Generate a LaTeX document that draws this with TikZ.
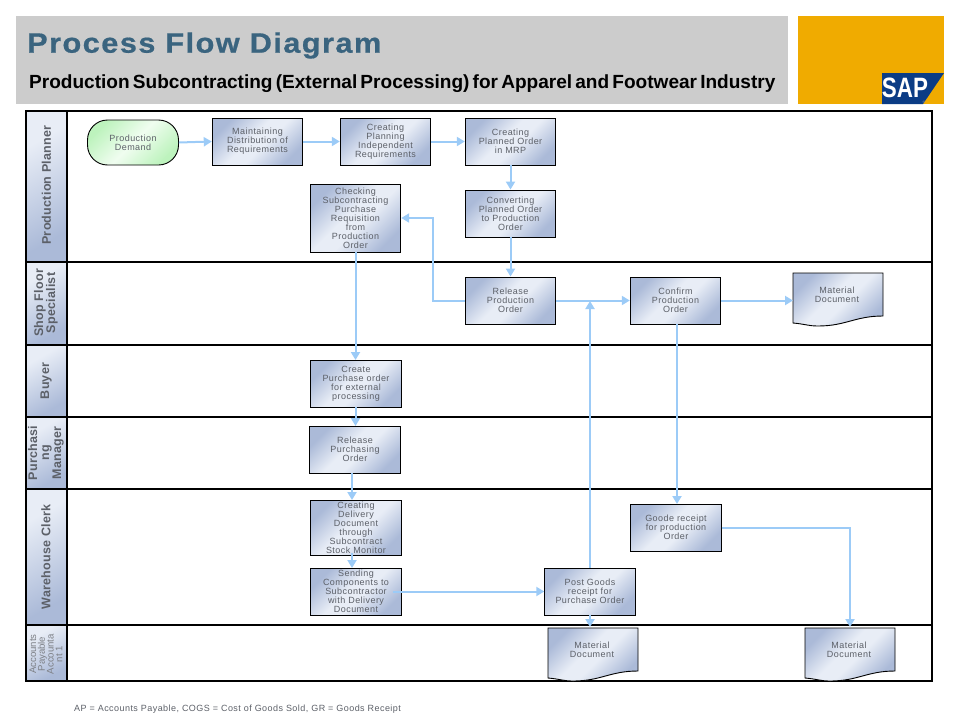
\documentclass[tikz,border=0pt]{standalone}
\usepackage{fontspec}
\setmainfont{Liberation Sans}
\newfontfamily\boxfont[LetterSpace=5]{Liberation Sans}
\newfontfamily\lanefont[LetterSpace=2]{Liberation Sans}
\newfontfamily\titlefont[UprightFont=* Bold,LetterSpace=5,FakeBold=0.6,FakeStretch=1.1]{Liberation Sans}
\newfontfamily\subfont[UprightFont=* Bold,WordSpace=0.6]{Liberation Sans}
\usetikzlibrary{arrows.meta}
\definecolor{flowblue}{HTML}{9CCBF7}
\definecolor{boxdark}{HTML}{ABBAD8}
\definecolor{boxlight}{HTML}{E8EDF6}
\definecolor{greendark}{HTML}{BDF3BD}
\definecolor{greenlight}{HTML}{F0FDF0}
\definecolor{textgrey}{HTML}{5C6068}
\definecolor{titleblue}{HTML}{3A647F}
\definecolor{sapgold}{HTML}{F0AB00}
\definecolor{sapblue}{HTML}{0B3C85}
\pgfdeclareverticalshading{procshade}{100bp}{color(0bp)=(boxdark); color(25bp)=(boxdark); color(45bp)=(boxlight); color(55bp)=(boxlight); color(75bp)=(boxdark); color(100bp)=(boxdark)}
\pgfdeclareverticalshading{demandshade}{100bp}{color(0bp)=(greendark); color(25bp)=(greendark); color(50bp)=(greenlight); color(75bp)=(greendark); color(100bp)=(greendark)}
\pgfdeclareverticalshading{laneshade}{100bp}{color(0bp)=(boxdark); color(28bp)=(boxdark); color(70bp)=(boxlight); color(100bp)=(boxlight)}
\tikzset{
  proc/.style={draw=black,line width=0.9pt,shading=procshade,shading angle=45,minimum width=90.5pt,minimum height=47pt,inner sep=0pt,align=center,text=textgrey,font=\boxfont\fontsize{9}{9}\selectfont},
  doctext/.style={inner sep=0pt,align=center,text=textgrey,font=\boxfont\fontsize{9}{9}\selectfont},
  lanetext/.style={inner sep=0pt,align=center,rotate=90,text=textgrey,font=\lanefont\bfseries\fontsize{12.5}{12}\selectfont},
  flow/.style={draw=flowblue,line width=2pt,-{Triangle[width=9pt,length=8pt]}},
}
\begin{document}
\begin{tikzpicture}[x=1pt,y=-1pt]
\useasboundingbox (0,0) rectangle (960,720);
% header
\fill[black!20] (16,16) rectangle (788,104);
\fill[sapgold] (798,16) rectangle (944,104);
\fill[sapblue] (882,73) -- (944,73) -- (923,104) -- (882,104) -- cycle;
\node (saplogo) at (905,88) [text=white,inner sep=0pt,font=\bfseries\fontsize{28}{28}\selectfont,xscale=0.8] {SAP};
\node (sapmark) at (924,102.5) [text=black!40,inner sep=0pt,font=\fontsize{3.5}{3.5}\selectfont] {®};
\node (title) at (27,45.5) [anchor=west,inner sep=0pt,text=titleblue,font=\titlefont\fontsize{28}{28}\selectfont] {Process Flow Diagram};
\node (subtitle) at (29,84) [anchor=west,inner sep=0pt,font=\subfont\fontsize{19.05}{19.05}\selectfont] {Production Subcontracting (External Processing) for Apparel and Footwear Industry};
% lanes
\foreach \ltop/\lbot in {111/262,262/345,345/417,417/489,489/625,625/681}
  \shade[shading=laneshade,shading angle=30] (26,\ltop) rectangle (67,\lbot);
\draw[line width=2pt] (26,111) rectangle (932,681);
\draw[line width=2pt] (67,111) -- (67,681);
\foreach \ly in {262,345,417,489,625}
  \draw[line width=1.6pt] (26,\ly) -- (933,\ly);
\node (lanePlanner) at (46.5,185) [lanetext] {Production Planner};
\node (laneFloor) at (46,303) [lanetext] {Shop Floor\\Specialist};
\node (laneBuyer) at (46,381) [lanetext] {Buyer};
\node (lanePurch) at (46,453) [lanetext] {Purchasi\\ng\\Manager};
\node (laneClerk) at (46,557) [lanetext] {Warehouse Clerk};
\node (laneAcct) at (46,654) [lanetext,text=textgrey!80,font=\fontsize{9.6}{8.8}\selectfont] {Accounts\\Payable\\Accounta\\nt 1};
% process boxes
\node (demand) at (133,142.5) [proc,shading=demandshade,rounded corners=20pt,minimum width=91pt,minimum height=45pt] {Production\\Demand};
\node (maintain) at (257.5,141.5) [proc] {Maintaining\\Distribution of\\Requirements};
\node (indep) at (385.5,141.5) [proc] {Creating\\Planning\\Independent\\Requirements};
\node (planned) at (510.5,141.5) [proc] {Creating\\Planned Order\\in MRP};
\node (convert) at (510.5,213.5) [proc] {Converting\\Planned Order\\to Production\\Order};
\node (check) at (355.5,218) [proc,minimum height=68pt] {Checking\\Subcontracting\\Purchase\\Requisition\\from\\Production\\Order};
\node (release) at (510.5,300.5) [proc] {Release\\Production\\Order};
\node (confirm) at (675.5,300.5) [proc] {Confirm\\Production\\Order};
\node (create) at (356,383.5) [proc] {Create\\Purchase order\\for external\\processing};
\node (relpurch) at (355,449.5) [proc] {Release\\Purchasing\\Order};
\node (delivery) at (356,527.5) [proc,minimum height=55pt] {Creating\\Delivery\\Document\\through\\Subcontract\\Stock Monitor};
\node (sending) at (356,591.5) [proc] {Sending\\Components to\\Subcontractor\\with Delivery\\Document};
\node (goode) at (676,527.5) [proc] {Goode receipt\\for production\\Order};
\node (post) at (590,591.5) [proc] {Post Goods\\receipt for\\Purchase Order};
% material documents
\foreach \dname/\dx/\dy in {matA/793/273,matB/548/628,matC/805/628}{
  \path[draw=black,line width=0.9pt,shading=procshade,shading angle=45] (\dx,\dy) -- ++(90,0) -- ++(0,43) .. controls +(-28,0) and +(28,0) .. ++(-65,10) .. controls +(-10,0) and +(12,1) .. ++(-25,-3) -- cycle;
  \node (\dname) at (\dx+44,\dy+21.5) [doctext] {Material\\Document};
}
% connectors
\coordinate (bendCheck) at (433,300.5);
\coordinate (joinPost) at (590,301);
\coordinate (matAin) at (793,300.5);
\coordinate (confirmOut) at (677,324);
\coordinate (goodeIn) at (677,504);
\coordinate (bendGoode) at (850,527.5);
\coordinate (matCin) at (850,627);
\coordinate (createIn) at (355.5,360);
\coordinate (createOut) at (355.5,407);
\coordinate (relpurchIn) at (355.5,426);
\coordinate (relpurchOut) at (352,473);
\coordinate (deliveryIn) at (352,500);
\coordinate (deliveryOut) at (352,553);
\coordinate (sendingIn) at (352,568);
\coordinate (sendingOut) at (393,591.5);
\coordinate (matBin) at (590,627);
\draw[flow] (demand.east) -- (maintain.west);
\draw[flow] (maintain.east) -- (indep.west);
\draw[flow] (indep.east) -- (planned.west);
\draw[flow] (planned.south) -- (convert.north);
\draw[flow] (convert.south) -- (release.north);
\draw[flow] (release.west) -- (bendCheck) |- (check.east);
\draw[flow] (release.east) -- (confirm.west);
\draw[flow] (confirm.east) -- (matAin);
\draw[flow] (post.north) -- (joinPost);
\draw[flow] (confirmOut) -- (goodeIn);
\draw[flow] (goode.east) -- (bendGoode) -- (matCin);
\draw[flow] (check.south) -- (createIn);
\draw[flow] (createOut) -- (relpurchIn);
\draw[flow] (relpurchOut) -- (deliveryIn);
\draw[flow] (deliveryOut) -- (sendingIn);
\draw[flow] (sendingOut) -- (post.west);
\draw[flow] (post.south) -- (matBin);
% footnote
\node (footnote) at (74,709) [anchor=west,inner sep=0pt,text=textgrey,font=\boxfont\fontsize{9}{9}\selectfont] {AP = Accounts Payable, COGS = Cost of Goods Sold, GR = Goods Receipt};
\end{tikzpicture}
\end{document}
